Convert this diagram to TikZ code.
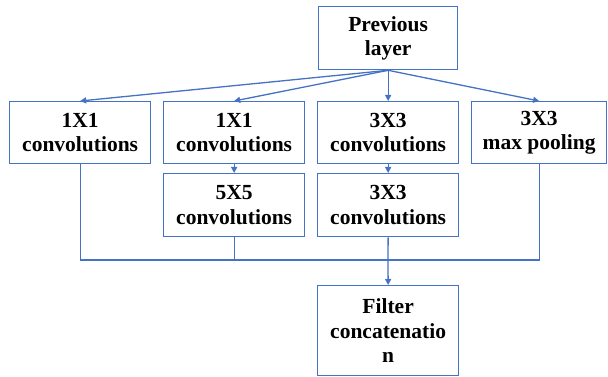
\documentclass[tikz,border=0pt]{standalone}
\usepackage{fontspec}
\setmainfont{Liberation Serif}
\usetikzlibrary{arrows.meta}
\definecolor{lineblue}{RGB}{68,114,196}
\begin{document}
\begin{tikzpicture}[x=1pt,y=-1pt,
  blk/.style={draw=lineblue, line width=1.3pt, inner sep=0pt, anchor=north west,
    align=center, font=\fontsize{21.5}{24.5}\selectfont\bfseries},
  link/.style={draw=lineblue, line width=1.3pt},
  arr/.style={link, -{Triangle[length=6pt,width=6pt]}}]
\useasboundingbox (0,0) rectangle (608,377);
% boxes: name, corner, size
\node[blk, minimum width=139pt, minimum height=63pt] (prev) at (318,6) {Previous\\layer};
\node[blk, minimum width=141pt, minimum height=62pt] (c1) at (9,101) {1X1\\convolutions};
\node[blk, minimum width=141pt, minimum height=62pt] (c2) at (163,101) {1X1\\convolutions};
\node[blk, minimum width=141pt, minimum height=62pt] (c3) at (317,101) {3X3\\convolutions};
\node[blk, minimum width=135pt, minimum height=62pt] (mp) at (471,101) {3X3\\max pooling};
\node[blk, minimum width=141pt, minimum height=63pt] (c5) at (163,173) {5X5\\convolutions};
\node[blk, minimum width=141pt, minimum height=63pt] (c33) at (317,173) {3X3\\convolutions};
\node[blk, minimum width=141pt, minimum height=90pt] (cat) at (317,285) {Filter\\concatenatio\\n};
% fan-out from the previous layer
\draw[arr] (prev.south) -- (c1.north);
\draw[arr] (prev.south) -- (c2.north);
\draw[arr] (prev.south) -- (c3.north);
\draw[arr] (prev.south) -- (mp.north);
% stacked branches
\draw[arr] (c2.south) -- (c5.north);
\draw[arr] (c3.south) -- (c33.north);
% merge into the concatenation
\coordinate (mrg) at (388,260);
\draw[link] (c1.south) |- (mrg);
\draw[link] (c5.south) -- (c5.south |- mrg);
\draw[link] (c33.south) -- (mrg);
\draw[link] (mp.south) |- (mrg);
\draw[arr] (mrg) -- (cat.north);
\end{tikzpicture}
\end{document}
